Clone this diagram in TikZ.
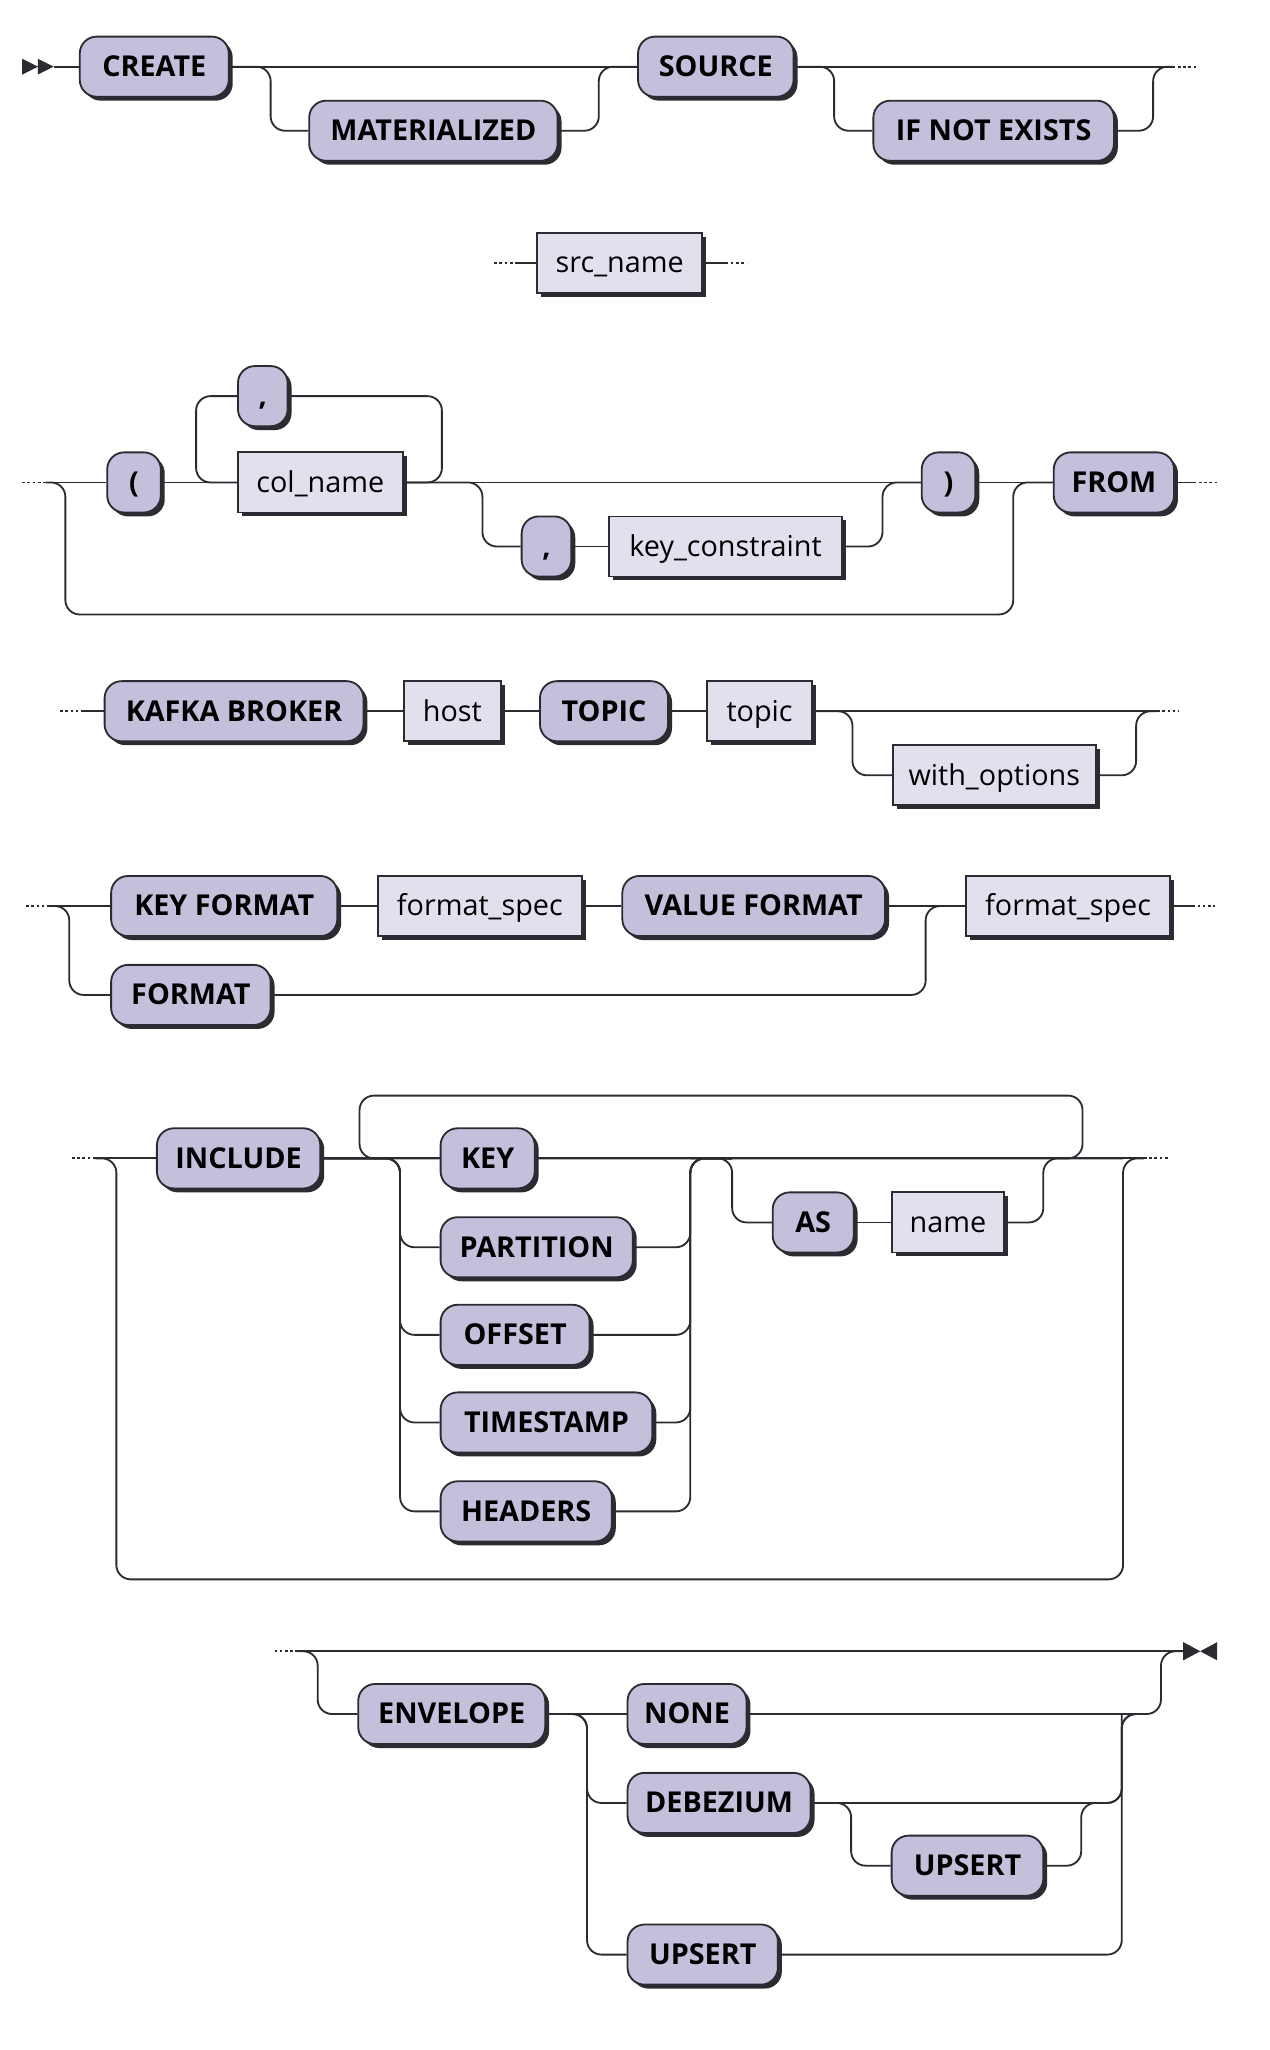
\documentclass[tikz,border=0pt]{standalone}
\usepackage{fontspec}
\setmainfont{Open Sans}
\definecolor{railink}{HTML}{2B2B31}
\definecolor{railterm}{HTML}{C5BFDC}
\definecolor{railnonterm}{HTML}{E3E0EE}
\usetikzlibrary{shadows}

\begin{document}
\begin{tikzpicture}[x=1pt,y=-1pt,font=\fontsize{22}{26}\selectfont]
        \tikzset{
            railbox/.style={
                draw=railink,
                line width=1.4pt,
                minimum height=46pt,
                inner sep=0pt,
                text height=17pt,
                text depth=2pt,
                drop shadow={shadow xshift=3pt,shadow yshift=-3pt,fill=railink,opacity=1}
            },
            term/.style={railbox,fill=railterm,rounded corners=13pt,font=\fontsize{22}{26}\selectfont\bfseries},
            nonterm/.style={railbox,fill=railnonterm},
            rail/.style={
                draw=railink,
                line width=1.4pt,
                rounded corners=11pt
            },
            railcont/.style={
                draw=railink,
                line width=1.4pt,
                dash pattern=on 2pt off 2pt
            },
            railtip/.style={fill=railink}
        }
        \useasboundingbox (0,0) rectangle (971,1568);

        % CREATE [MATERIALIZED] SOURCE [IF NOT EXISTS]
        \node[term,minimum width=114pt] (create) at (118,51) {CREATE};
        \node[term,minimum width=190pt] (materialized) at (331.5,100) {MATERIALIZED};
        \node[term,minimum width=119pt] (source) at (547.5,51) {SOURCE};
        \node[term,minimum width=184pt] (ifnotexists) at (760,100) {IF NOT EXISTS};
        \coordinate (start) at (41,51);
        \coordinate (skip1a) at (207,100);
        \coordinate (skip1b) at (458,51);
        \coordinate (skip1c) at (638,100);
        \coordinate (skip1d) at (882,51);
        \coordinate (out1) at (897,51);
        \coordinate (cont1) at (915,51);

        \fill[railtip] (17,45) -- (29,51) -- (17,57) -- cycle (29,45) -- (41,51) -- (29,57) -- cycle;
        \draw[rail] (start) -- (create.west);
        \draw[rail] (create.east) -- (source.west);
        \draw[rail] (create.east) -| (skip1a) -- (materialized.west);
        \draw[rail] (materialized.east) -| (skip1b) -- (source.west);
        \draw[rail] (source.east) -- (out1);
        \draw[rail] (source.east) -| (skip1c) -- (ifnotexists.west);
        \draw[rail] (ifnotexists.east) -| (skip1d) -- (out1);
        \draw[railcont] (out1) -- (cont1);

        % src_name
        \node[nonterm,minimum width=126pt] (srcname) at (474,201) {src\_name};
        \coordinate (cont2a) at (378,201);
        \coordinate (in2) at (395,201);
        \coordinate (out2) at (555,201);
        \coordinate (cont2b) at (571,201);

        \draw[railcont] (cont2a) -- (in2);
        \draw[rail] (in2) -- (srcname.west);
        \draw[rail] (srcname.east) -- (out2);
        \draw[railcont] (out2) -- (cont2b);

        % [( col_name {, col_name} [, key_constraint] )] FROM
        \node[term,minimum width=41pt] (lparen) at (102.5,369) {(};
        \node[nonterm,minimum width=126pt] (colname) at (245,369) {col\_name};
        \node[term,minimum width=38pt] (colsep) at (201,303) {,};
        \node[term,minimum width=38pt] (keysep) at (418,418) {,};
        \node[nonterm,minimum width=178pt] (keyconstraint) at (555,418) {key\_constraint};
        \node[term,minimum width=41pt] (rparen) at (725.5,369) {)};
        \node[term,minimum width=92pt] (from) at (852,369) {FROM};
        \coordinate (cont3a) at (17,369);
        \coordinate (in3) at (35,369);
        \coordinate (loop3l) at (150,369);
        \coordinate (loop3r) at (338,303);
        \coordinate (opt3a) at (369,418);
        \coordinate (opt3b) at (675,369);
        \coordinate (skip3a) at (50,470);
        \coordinate (skip3b) at (775,369);
        \coordinate (out3) at (913,369);
        \coordinate (cont3b) at (931,369);

        \draw[railcont] (cont3a) -- (in3);
        \draw[rail] (in3) -- (lparen.west);
        \draw[rail] (lparen.east) -- (colname.west);
        \draw[rail] (colname.east) -| (loop3r) -- (colsep.east);
        \draw[rail] (colsep.west) -| (loop3l) -- (colname.west);
        \draw[rail] (colname.east) -- (rparen.west);
        \draw[rail] (colname.east) -| (opt3a) -- (keysep.west);
        \draw[rail] (keysep.east) -- (keyconstraint.west);
        \draw[rail] (keyconstraint.east) -| (opt3b) -- (rparen.west);
        \draw[rail] (rparen.east) -- (from.west);
        \draw[rail] (in3) -| (skip3a) -| (skip3b) -- (from.west);
        \draw[rail] (from.east) -- (out3);
        \draw[railcont] (out3) -- (cont3b);

        % KAFKA BROKER host TOPIC topic [with_options]
        \node[term,minimum width=198pt] (kafkabroker) at (179,544) {KAFKA BROKER};
        \node[nonterm,minimum width=74pt] (host) at (346,544) {host};
        \node[term,minimum width=98pt] (topickw) at (462,544) {TOPIC};
        \node[nonterm,minimum width=80pt] (topic) at (581,544) {topic};
        \node[nonterm,minimum width=155pt] (withoptions) at (760.5,593) {with\_options};
        \coordinate (cont4a) at (46,544);
        \coordinate (in4) at (63,544);
        \coordinate (opt4a) at (652,593);
        \coordinate (opt4b) at (869,544);
        \coordinate (out4) at (885,544);
        \coordinate (cont4b) at (902,544);

        \draw[railcont] (cont4a) -- (in4);
        \draw[rail] (in4) -- (kafkabroker.west);
        \draw[rail] (kafkabroker.east) -- (host.west);
        \draw[rail] (host.east) -- (topickw.west);
        \draw[rail] (topickw.east) -- (topic.west);
        \draw[rail] (topic.east) -- (out4);
        \draw[rail] (topic.east) -| (opt4a) -- (withoptions.west);
        \draw[rail] (withoptions.east) -| (opt4b) -- (out4);
        \draw[railcont] (out4) -- (cont4b);

        % KEY FORMAT ... VALUE FORMAT | FORMAT
        \node[term,minimum width=173pt] (keyformat) at (171.5,693) {KEY FORMAT};
        \node[nonterm,minimum width=156pt] (keyspec) at (367,693) {format\_spec};
        \node[term,minimum width=201pt] (valueformat) at (576.5,693) {VALUE FORMAT};
        \node[nonterm,minimum width=156pt] (valuespec) at (817,693) {format\_spec};
        \node[term,minimum width=122pt] (format) at (146,761) {FORMAT};
        \coordinate (cont5a) at (20,693);
        \coordinate (in5) at (38,693);
        \coordinate (alt5a) at (53,761);
        \coordinate (alt5b) at (708,693);
        \coordinate (out5) at (912,693);
        \coordinate (cont5b) at (929,693);

        \draw[railcont] (cont5a) -- (in5);
        \draw[rail] (in5) -- (keyformat.west);
        \draw[rail] (keyformat.east) -- (keyspec.west);
        \draw[rail] (keyspec.east) -- (valueformat.west);
        \draw[rail] (valueformat.east) -- (valuespec.west);
        \draw[rail] (in5) -| (alt5a) -- (format.west);
        \draw[rail] (format.east) -| (alt5b) -- (valuespec.west);
        \draw[rail] (valuespec.east) -- (out5);
        \draw[railcont] (out5) -- (cont5b);

        % [INCLUDE {KEY | PARTITION | OFFSET | TIMESTAMP | HEADERS} [AS name]]
        \node[term,minimum width=125pt] (include) at (182.5,886) {INCLUDE};
        \node[term,minimum width=72pt] (key) at (373,886) {KEY};
        \node[term,minimum width=147pt] (partition) at (410.5,954) {PARTITION};
        \node[term,minimum width=114pt] (offset) at (394,1021) {OFFSET};
        \node[term,minimum width=162pt] (timestamp) at (418,1088) {TIMESTAMP};
        \node[term,minimum width=131pt] (headers) at (402.5,1156) {HEADERS};
        \node[term,minimum width=62pt] (as) at (622,935) {AS};
        \node[nonterm,minimum width=86pt] (name) at (725,935) {name};
        \coordinate (cont6a) at (55,886);
        \coordinate (in6) at (73,886);
        \coordinate (loop6l) at (275,886);
        \coordinate (loop6r) at (828,838);
        \coordinate (choice6l) at (306,886);
        \coordinate (choice6r) at (528,886);
        \coordinate (opt6a) at (560,935);
        \coordinate (opt6b) at (798,886);
        \coordinate (skip6a) at (89,1208);
        \coordinate (skip6b) at (859,886);
        \coordinate (out6) at (875,886);
        \coordinate (cont6b) at (893,886);

        \draw[railcont] (cont6a) -- (in6);
        \draw[rail] (in6) -- (include.west);
        \draw[rail] (include.east) -- (key.west);
        \draw[rail] (key.east) -- (out6);
        \draw[rail] (key.east) -| (loop6r) -| (loop6l) -- (key.west);
        \foreach \alt in {partition,offset,timestamp,headers} {
            \draw[rail] (include.east) -| (choice6l |- \alt.west) -- (\alt.west);
            \draw[rail] (\alt.east) -| (choice6r) -- (opt6a |- choice6r);
        }
        \draw[rail] (choice6r) -| (opt6a) -- (as.west);
        \draw[rail] (as.east) -- (name.west);
        \draw[rail] (name.east) -| (opt6b) -- (skip6b);
        \draw[rail] (in6) -| (skip6a) -| (skip6b) -- (out6);
        \draw[railcont] (out6) -- (cont6b);

        % [ENVELOPE {NONE | DEBEZIUM [UPSERT] | UPSERT}]
        \node[term,minimum width=143pt] (envelope) at (345.5,1311) {ENVELOPE};
        \node[term,minimum width=91pt] (none) at (525.5,1311) {NONE};
        \node[term,minimum width=140pt] (debezium) at (550,1379) {DEBEZIUM};
        \node[term,minimum width=116pt] (upsertdeb) at (740,1427) {UPSERT};
        \node[term,minimum width=115pt] (upsert) at (537.5,1495) {UPSERT};
        \coordinate (cont7) at (210,1263);
        \coordinate (in7) at (228,1263);
        \coordinate (opt7a) at (243,1311);
        \coordinate (choice7l) at (449,1311);
        \coordinate (choice7r) at (858,1311);
        \coordinate (join7) at (872,1311);
        \coordinate (opt7b) at (651,1427);
        \coordinate (opt7c) at (827,1379);
        \coordinate (skip7) at (888,1263);
        \coordinate (fin) at (905,1263);

        \draw[railcont] (cont7) -- (in7);
        \draw[rail] (in7) -- (fin);
        \draw[rail] (in7) -| (opt7a) -- (envelope.west);
        \draw[rail] (envelope.east) -- (none.west);
        \draw[rail] (none.east) -| (skip7) -- (fin);
        \foreach \alt in {debezium,upsert} {
            \draw[rail] (envelope.east) -| (choice7l |- \alt.west) -- (\alt.west);
            \draw[rail] (\alt.east) -| (choice7r) -- (join7);
        }
        \draw[rail] (debezium.east) -| (opt7b) -- (upsertdeb.west);
        \draw[rail] (upsertdeb.east) -| (opt7c) -| (choice7r);
        \fill[railtip] (905,1256) -- (918,1263) -- (905,1270) -- cycle (931,1256) -- (918,1263) -- (931,1270) -- cycle;
    \end{tikzpicture}
\end{document}
